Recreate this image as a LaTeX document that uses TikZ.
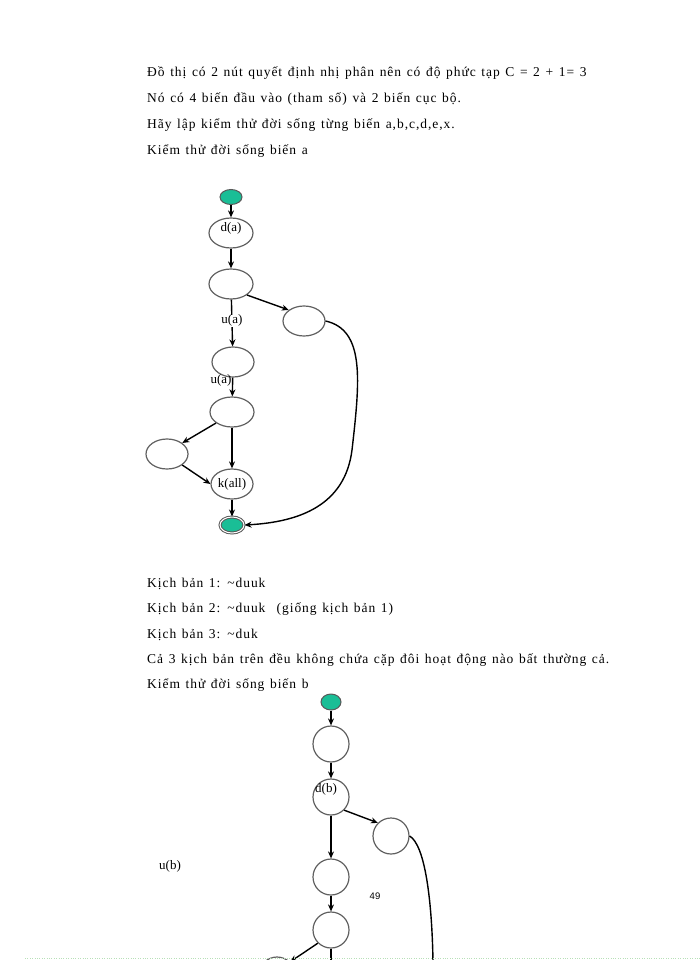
\documentclass[tikz,border=0pt]{standalone}
\usepackage{fontspec}
\setmainfont{Liberation Serif}
\newfontfamily\spaced[LetterSpace=7,WordSpace=1.3]{Liberation Serif}
\newfontfamily\sansf{Liberation Sans}
\begin{document}
\begin{tikzpicture}[x=1pt,y=-1pt,
  nd/.style={ellipse,draw=gray!75!black,line width=1.2pt,minimum width=44pt,minimum height=30pt,inner sep=0pt,font=\fontsize{13}{13}\selectfont},
  cn/.style={circle,draw=gray!75!black,line width=1.2pt,minimum size=36pt,inner sep=0pt},
  term/.style={ellipse,draw=gray!70!black,line width=1pt,fill=tealc,minimum width=22pt,minimum height=15pt,inner sep=0pt},
  ar/.style={-{Stealth[length=7pt,width=6pt]},line width=1.4pt},
  txt/.style={anchor=west,font=\spaced\fontsize{13.5}{14}\selectfont,inner sep=0pt}]
\usetikzlibrary{shapes.geometric,arrows.meta}
\definecolor{tealc}{RGB}{26,190,150}
\useasboundingbox (0,0) rectangle (700,960);
\node[txt] (t1) at (147,73) {Đồ thị có 2 nút quyết định nhị phân nên có độ phức tạp C = 2 + 1= 3};
\node[txt] (t2) at (147,99) {Nó có 4 biến đầu vào (tham số) và 2 biến cục bộ.};
\node[txt] (t3) at (147,125) {Hãy lập kiểm thử đời sống từng biến a,b,c,d,e,x.};
\node[txt] (t4) at (147,151) {Kiểm thử đời sống biến a};
% graph a
\node[term] (s) at (231,197) {};
\node[nd] (a1) at (231,233) {};
\node[font=\fontsize{13}{13}\selectfont] (la1) at (231,228) {d(a)};
\node[nd] (a2) at (231,284) {};
\node[nd,minimum width=42pt] (ar1) at (304,321) {};
\node[nd,minimum width=42pt] (a3) at (233,362) {};
\node[nd] (a4) at (232,412) {};
\node[nd,minimum width=42pt] (al) at (167,454) {};
\node[nd,minimum width=42pt] (a5) at (232,484) {k(all)};
\node[term,double,double distance=1pt,minimum width=24pt,minimum height=16pt] (e) at (232,525) {};
\draw[ar] (s) -- (a1);
\draw[ar] (a1) -- (a2);
\draw[ar] (a2.south east) -- (ar1.north west);
\draw[ar] (a2) -- node[pos=0.45,fill=white,inner sep=0pt,font=\fontsize{13}{13}\selectfont]{u(a)} (a3);
\draw[ar] (a3) -- (a4);
\node[font=\fontsize{13}{13}\selectfont,inner sep=0pt] (lua) at (221,380) {u(a)};
\draw[ar] (a4.south west) -- (al.north east);
\draw[ar] (a4) -- (a5);
\draw[ar] (al.south east) -- (a5.west);
\draw[ar] (a5) -- (e);
\draw[ar] (ar1.east) .. controls (365,330) and (360,380) .. (352,450) .. controls (345,505) and (300,522) .. (e.east);
% text 2
\node[txt] (t5) at (147,584) {Kịch bản 1: \textasciitilde duuk};
\node[txt] (t6) at (147,609) {Kịch bản 2: \textasciitilde duuk\ \ (giống kịch bản 1)};
\node[txt] (t7) at (147,635) {Kịch bản 3: \textasciitilde duk};
\node[txt] (t8) at (147,660) {Cả 3 kịch bản trên đều không chứa cặp đôi hoạt động nào bất thường cả.};
\node[txt] (t9) at (147,685) {Kiểm thử đời sống biến b};
% graph b
\node[term,minimum width=20pt,minimum height=16pt] (bs) at (331,702) {};
\node[cn] (b1) at (331,744) {};
\node[cn] (b2) at (331,797) {};
\node[font=\fontsize{13}{13}\selectfont] (lb2) at (326,789) {d(b)};
\node[cn] (br) at (391,836) {};
\node[cn] (b3) at (331,877) {};
\node[cn] (b4) at (331,930) {};
\node[cn] (bl) at (277,975) {};
\coordinate (bend) at (433,962);
\draw[ar] (bs) -- (b1);
\draw[ar] (b1) -- (b2);
\draw[ar] (b2.south east) -- (br.north west);
\draw[ar] (b2) -- (b3);
\draw[ar] (b3) -- (b4);
\draw[ar] (b4.south west) -- (bl.north east);
\draw[line width=1.4pt] (b4.south) -- (331,962);
\draw[line width=1.4pt] (br.east) .. controls (425,845) and (432,900) .. (bend);
\node[font=\fontsize{13}{13}\selectfont] (ub) at (170,866) {u(b)};
\node[font=\sansf\fontsize{9.5}{9.5}\selectfont] (pg) at (375,896) {49};
\draw[green!40!gray!40,dotted] (25,958) -- (700,958);
\end{tikzpicture}
\end{document}
